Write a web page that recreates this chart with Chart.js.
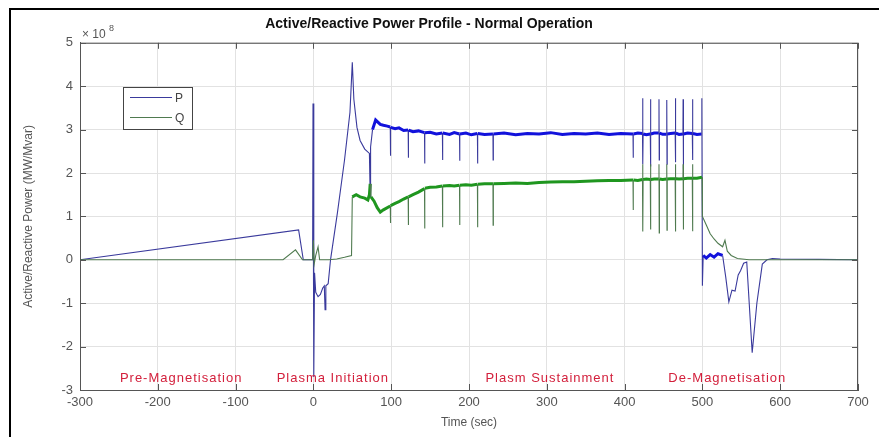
<!DOCTYPE html>
<html>
<head>
<meta charset="utf-8">
<script src="https://cdn.jsdelivr.net/npm/chart.js@4"></script>
<style>
  html, body { margin: 0; padding: 0; background: #fff; }
  #wrap { width: 879px; height: 437px; }
</style>
</head>
<body>
<div id="wrap"><canvas id="powerChart" width="879" height="437"></canvas></div>
<script>
// time axis (sec) and axis ticks
const xTickValues = [-300, -200, -100, 0, 100, 200, 300, 400, 500, 600, 700];
const yTickValues = [-3, -2, -1, 0, 1, 2, 3, 4, 5];

// Active power P (x 1e8)
const pTime = [
  -300, -19, -13, -1, -0.5, 0.5, 1.5, 3, 6, 9, 12, 14, 15, 16, 19, 22, 31, 40, 47, 50,
  52, 56, 60, 66, 72, 73, 73.5, 76, 80, 86, 90, 95, 98.8,
  99, 99.3, 105, 110, 116, 121.8, 122, 122.3, 128, 135, 142.8, 143, 143.3, 150, 158,
  165.8, 166, 166.3, 175, 181, 187.8, 188, 188.3, 196, 203, 210.8, 211, 211.3, 220,
  230.8, 231, 231.3, 245, 260, 275, 290, 305, 320, 335, 350, 365, 380, 395,
  410.8, 411, 411.3, 417,
  423, 423.2, 423.5, 423.8, 428,
  433, 433.2, 433.5, 433.8, 438,
  444, 444.2, 444.5, 444.8, 449,
  454, 454.2, 454.5, 454.8, 459,
  465, 465.2, 465.5, 465.8, 470,
  475, 475.2, 475.5, 475.8, 481,
  487, 487.2, 487.5, 487.8, 493,
  499, 499.3, 500, 501, 505, 510, 515, 520, 526, 530, 534, 538, 542, 546, 549,
  553, 557, 564, 570, 577, 583, 590, 600, 650, 700
];
const pValue = [
  0, 0.69, 0, 0, 3.6, -2.7, -0.3, -0.75, -0.85, -0.8, -0.65, -0.6, -1.15, -0.6, -0.55, 0, 1.1, 2.3, 3.4, 4.55,
  3.7, 3.05, 2.75, 2.55, 2.45, 1.45, 2.6, 3.0, 3.22, 3.12, 3.1, 3.08, 3.06,
  2.4, 3.05, 3.02, 3.04, 2.98, 2.99, 2.35, 2.99, 2.95, 2.97, 2.93, 2.22, 2.93, 2.94, 2.9,
  2.92, 2.3, 2.92, 2.89, 2.93, 2.9, 2.28, 2.9, 2.92, 2.88, 2.91, 2.22, 2.91, 2.89,
  2.9, 2.3, 2.9, 2.92, 2.88, 2.91, 2.9, 2.93, 2.89, 2.91, 2.9, 2.92, 2.89, 2.91,
  2.9, 2.35, 2.9, 2.92,
  2.91, 3.72, 2.2, 2.9, 2.88,
  2.9, 3.7, 2.15, 2.9, 2.92,
  2.92, 3.7, 2.3, 2.92, 2.89,
  2.89, 3.68, 2.2, 2.9, 2.91,
  2.92, 3.72, 2.25, 2.92, 2.89,
  2.9, 3.7, 2.1, 2.9, 2.92,
  2.91, 3.7, 2.3, 2.91, 2.89,
  2.9, 3.72, -0.6, 0.1, 0.04, 0.12, 0.06, 0.14, 0.1, -0.4, -0.97, -0.7, -0.72, -0.35, -0.25,
  -0.08, -0.05, -2.14, -1.0, -0.1, 0, 0.03, 0.02, 0.01, 0
];

// Reactive power Q (x 1e8)
const qTime = [
  -300, -39, -23, -14, -1, 0, 1, 3, 6, 8, 12, 20, 30, 40, 49, 50, 55, 60, 66, 70,
  72, 73, 74, 78, 82, 86, 90, 98.8,
  99, 99.3, 105, 110, 116, 121.8, 122, 122.3, 128, 135, 142.8, 143, 143.3, 150, 158,
  165.8, 166, 166.3, 175, 181, 187.8, 188, 188.3, 196, 203, 210.8, 211, 211.3, 220,
  230.8, 231, 231.3, 245, 260, 275, 290, 305, 320, 335, 350, 365, 380, 395,
  410.8, 411, 411.3, 417,
  423, 423.2, 423.5, 423.8, 428,
  433, 433.2, 433.5, 433.8, 438,
  444, 444.2, 444.5, 444.8, 449,
  454, 454.2, 454.5, 454.8, 459,
  465, 465.2, 465.5, 465.8, 470,
  475, 475.2, 475.5, 475.8, 481,
  487, 487.2, 487.5, 487.8, 493,
  499.5, 500, 505, 510, 515, 520, 526, 529, 532, 537, 545, 560, 600, 650, 700
];
const qValue = [
  0, 0, 0.23, 0, 0, 0.45, -0.1, 0.1, 0.3, 0, 0, 0, 0.02, 0.06, 0.1, 1.45, 1.5, 1.45, 1.42, 1.38,
  1.5, 1.75, 1.45, 1.35, 1.2, 1.1, 1.15, 1.24,
  0.85, 1.25, 1.3, 1.34, 1.4, 1.45, 0.8, 1.45, 1.5, 1.56, 1.64, 0.72, 1.65, 1.67, 1.68,
  1.7, 0.75, 1.7, 1.71, 1.7, 1.72, 0.8, 1.72, 1.73, 1.72, 1.74, 0.75, 1.74, 1.75,
  1.75, 0.8, 1.75, 1.76, 1.77, 1.76, 1.78, 1.79, 1.8, 1.8, 1.81, 1.82, 1.83, 1.83,
  1.84, 1.15, 1.84, 1.83,
  1.85, 2.2, 0.65, 1.85, 1.86,
  1.85, 2.2, 0.7, 1.85, 1.86,
  1.86, 2.2, 0.62, 1.86, 1.85,
  1.86, 2.2, 0.68, 1.86, 1.87,
  1.87, 2.2, 0.65, 1.87, 1.86,
  1.87, 2.2, 0.7, 1.87, 1.88,
  1.88, 2.2, 0.66, 1.88, 1.88,
  1.9, 1.0, 0.8, 0.6, 0.48, 0.38, 0.3, 0.45, 0.2, 0.1, 0.03, 0, 0, 0, 0
];

// phase labels along the bottom of the plot
const phaseLabels = ['Pre-Magnetisation', 'Plasma Initiation', 'Plasm Sustainment', 'De-Magnetisation'];
const phaseX = [-170, 25, 304, 532];
const phaseY = [-2.74, -2.74, -2.74, -2.74];

const seriesNames = ['P', 'Q'];

const toPoints = (t, v) => t.map((tt, i) => ({ x: tt, y: v[i] }));

// thick noisy band during sustainment, thin elsewhere and on spikes
function segStyle(from, to, thick, thin) {
  const isBand = c => c.p0.parsed.x >= from && c.p1.parsed.x <= to &&
    Math.abs(c.p1.parsed.y - c.p0.parsed.y) <= 0.3;
  return {
    borderColor: c => (isBand(c) ? thick : thin),
    borderWidth: c => (isBand(c) ? 3 : 1.1)
  };
}

const FONT = "'Liberation Sans', Arial, sans-serif";

const overlay = {
  id: 'overlay',
  afterDraw(chart) {
    const { ctx, chartArea: a, scales: { x, y } } = chart;
    ctx.save();

    // axes box + inward ticks
    ctx.strokeStyle = '#555';
    ctx.lineWidth = 1;
    ctx.strokeRect(a.left + 0.5, a.top + 0.5, a.right - a.left - 1, a.bottom - a.top);
    ctx.beginPath();
    xTickValues.forEach(v => {
      const px = Math.round(x.getPixelForValue(v)) + 0.5;
      ctx.moveTo(px, a.bottom); ctx.lineTo(px, a.bottom - 6);
      ctx.moveTo(px, a.top); ctx.lineTo(px, a.top + 6);
    });
    yTickValues.forEach(v => {
      const py = Math.round(y.getPixelForValue(v)) + 0.5;
      ctx.moveTo(a.left, py); ctx.lineTo(a.left + 6, py);
      ctx.moveTo(a.right, py); ctx.lineTo(a.right - 6, py);
    });
    ctx.stroke();

    // exponent
    ctx.fillStyle = '#555';
    ctx.font = '12px ' + FONT;
    ctx.textAlign = 'left';
    ctx.textBaseline = 'alphabetic';
    ctx.fillText('\u00d7 10', a.left + 2, a.top - 5);
    ctx.font = '9px ' + FONT;
    ctx.fillText('8', a.left + 29, a.top - 12);

    // legend
    ctx.fillStyle = '#fff';
    ctx.fillRect(123, 87, 69, 42);
    ctx.strokeStyle = '#444';
    ctx.strokeRect(123.5, 87.5, 69, 42);
    const legendColors = ['#3a3a9c', '#4f7a4f'];
    seriesNames.forEach((name, i) => {
      const ly = 97.5 + i * 20;
      ctx.strokeStyle = legendColors[i];
      ctx.lineWidth = 1;
      ctx.beginPath(); ctx.moveTo(130, ly); ctx.lineTo(172, ly); ctx.stroke();
      ctx.fillStyle = '#444';
      ctx.font = '12px ' + FONT;
      ctx.textBaseline = 'middle';
      ctx.fillText(name, 175, ly + 1);
    });

    // phase annotations
    ctx.fillStyle = '#d3203c';
    ctx.font = '13px ' + FONT;
    ctx.textAlign = 'center';
    ctx.textBaseline = 'middle';
    ctx.letterSpacing = '1px';
    phaseLabels.forEach((s, i) => {
      ctx.fillText(s, x.getPixelForValue(phaseX[i]), y.getPixelForValue(phaseY[i]));
    });
    ctx.letterSpacing = '0px';

    // outer frame
    ctx.strokeStyle = '#000';
    ctx.lineWidth = 2;
    ctx.beginPath();
    ctx.moveTo(10, 437); ctx.lineTo(10, 9); ctx.lineTo(879, 9);
    ctx.stroke();
    ctx.restore();
  }
};

new Chart(document.getElementById('powerChart'), {
  type: 'line',
  data: {
    datasets: [
      {
        label: seriesNames[0],
        data: toPoints(pTime, pValue),
        borderColor: '#1414e0',
        order: 2,
        segment: segStyle(74, 526, '#1212dc', '#3a3a9c')
      },
      {
        label: seriesNames[1],
        data: toPoints(qTime, qValue),
        borderColor: '#1f9a1f',
        order: 1,
        segment: segStyle(50, 499.6, '#1f961f', '#4f7a4f')
      }
    ]
  },
  options: {
    responsive: false,
    animation: false,
    devicePixelRatio: 1,
    elements: { point: { radius: 0 }, line: { borderWidth: 1.1, tension: 0 } },
    layout: { padding: { top: 0, right: 21, left: 0, bottom: 0 } },
    plugins: {
      legend: { display: false },
      tooltip: { enabled: false },
      title: {
        display: true,
        text: 'Active/Reactive Power Profile - Normal Operation',
        color: '#111',
        font: { family: FONT, size: 14, weight: 'bold' },
        padding: { top: 16, bottom: 10 }
      }
    },
    scales: {
      x: {
        type: 'linear',
        min: -300,
        max: 700,
        afterFit: s => { s.height = 47; },
        afterBuildTicks: s => { s.ticks = xTickValues.map(v => ({ value: v })); },
        ticks: { color: '#555', font: { family: FONT, size: 13 }, padding: 5, maxRotation: 0 },
        grid: { color: '#e2e2e2', drawTicks: false },
        border: { display: true, color: '#555' },
        title: {
          display: true, text: 'Time (sec)', color: '#555',
          font: { family: FONT, size: 12 }, padding: { top: 0, bottom: 7 }
        }
      },
      y: {
        type: 'linear',
        min: -3,
        max: 5,
        afterFit: s => { s.width = 80; },
        afterBuildTicks: s => { s.ticks = yTickValues.map(v => ({ value: v })); },
        ticks: { color: '#555', font: { family: FONT, size: 13 }, padding: 7 },
        grid: { color: '#e2e2e2', drawTicks: false },
        border: { display: true, color: '#555' },
        title: {
          display: true, text: 'Active/Reactive Power (MW/Mvar)', color: '#555',
          font: { family: FONT, size: 12 }, padding: { top: 21, bottom: 0 }
        }
      }
    }
  },
  plugins: [overlay]
});
</script>
</body>
</html>
